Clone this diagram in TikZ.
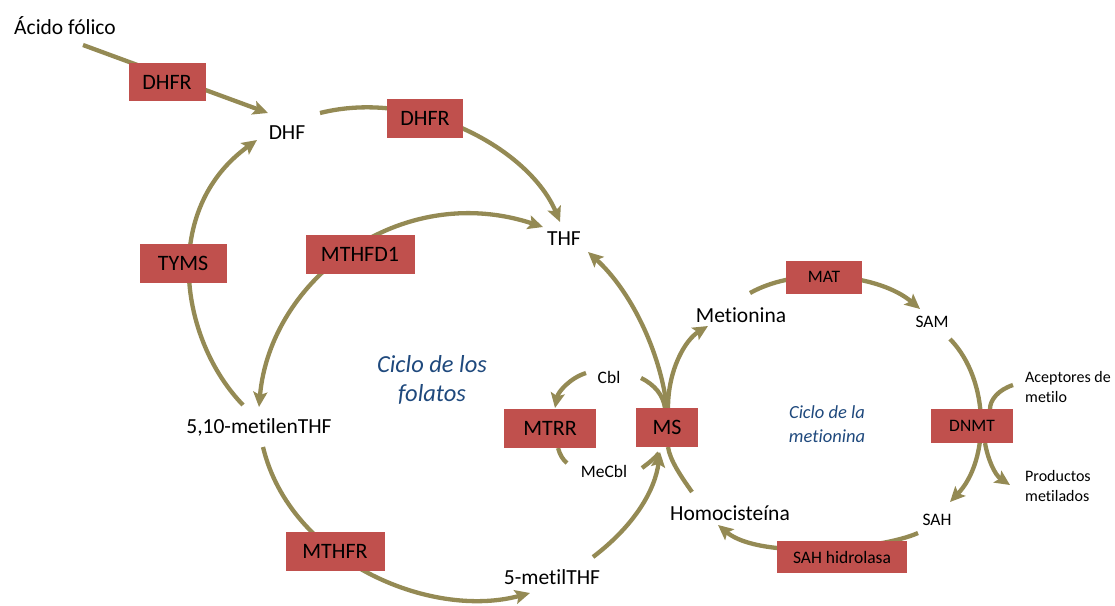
\documentclass[tikz,border=0pt]{standalone}
\usepackage{fontspec}
\setmainfont{Carlito}[Ligatures={NoCommon}]
\usetikzlibrary{arrows.meta}
\definecolor{boxred}{HTML}{C0504D}
\definecolor{arrowolive}{HTML}{948A54}
\definecolor{cycblue}{HTML}{1F497D}
\pgfdeclarelayer{background}
\pgfsetlayers{background,main}
\begin{document}
\begin{tikzpicture}[x=1pt,y=-1pt,
  flow/.style={draw=arrowolive,line width=4.3pt},
  arr/.style={flow,-{Stealth[length=15pt,width=14pt,inset=3pt]}},
  biarr/.style={flow,{Stealth[length=15pt,width=14pt,inset=3pt]}-{Stealth[length=15pt,width=14pt,inset=3pt]}},
  enz/.style={fill=boxred,inner sep=0pt,text=black,font=\fontsize{22}{26}\selectfont},
  senz/.style={fill=boxred,inner sep=0pt,text=black,font=\fontsize{17.5}{21}\selectfont},
  lbl/.style={inner sep=0pt,anchor=base,font=\fontsize{21.5}{25}\selectfont},
  slbl/.style={inner sep=0pt,anchor=base,font=\fontsize{17.5}{21}\selectfont},
  sidelbl/.style={inner sep=0pt,anchor=west,align=left,font=\fontsize{16}{19.5}\selectfont},
  bigcyc/.style={inner sep=0pt,align=center,text=cycblue,font=\fontsize{24.5}{29}\selectfont\itshape},
  smallcyc/.style={inner sep=0pt,align=center,text=cycblue,font=\fontsize{18.5}{24}\selectfont\itshape},
]
\useasboundingbox (0,0) rectangle (1115,605);

% text labels
\node[lbl] (acido) at (65,34) {Ácido fólico};
\node[lbl] (dhf) at (287,139) {DHF};
\node[lbl] (thf) at (564,245) {THF};
\node[lbl] (metilen) at (259,433) {5,10-metilenTHF};
\node[lbl] (metil) at (552,584) {5-metilTHF};
\node[lbl] (metionina) at (741,322) {Metionina};
\node[lbl] (homo) at (730,520) {Homocisteína};
\node[slbl] (sam) at (932,327) {SAM};
\node[slbl] (sah) at (937,525) {SAH};
\node[slbl] (cbl) at (609,383) {Cbl};
\node[slbl] (mecbl) at (604,477) {MeCbl};
\node[sidelbl] (acept) at (1025,387) {Aceptores de\\metilo};
\node[sidelbl] (prod) at (1025,486) {Productos\\metilados};
\node[bigcyc] (folc) at (432,380) {Ciclo de los\\folatos};
\node[smallcyc] (metc) at (827,424) {Ciclo de la\\metionina};

% enzyme boxes
\node[enz,minimum width=77pt,minimum height=38pt] (dhfrA) at (167,82) {DHFR};
\node[enz,minimum width=76pt,minimum height=39pt] (dhfrB) at (425,118) {DHFR};
\node[enz,minimum width=87pt,minimum height=39pt] (tyms) at (183,263) {TYMS};
\node[enz,minimum width=109pt,minimum height=39pt] (mthfd) at (360,254) {MTHFD1};
\node[enz,minimum width=99pt,minimum height=39pt] (mthfr) at (335,551) {MTHFR};
\node[enz,minimum width=92pt,minimum height=39pt] (mtrr) at (550,428) {MTRR};
\node[enz,minimum width=62pt,minimum height=39pt] (ms) at (667,427) {MS};
\node[senz,minimum width=76pt,minimum height=33pt] (mat) at (824,277) {MAT};
\node[senz,minimum width=82pt,minimum height=34pt] (dnmt) at (972,426) {DNMT};
\node[senz,minimum width=130pt,minimum height=32pt] (sahh) at (842,557) {SAH hidrolasa};

% connector end points
\coordinate (acido-o) at (83,45);
\coordinate (dhf-i) at (268,113);
\coordinate (dhf-o) at (320,113);
\coordinate (thf-i1) at (560,222);
\coordinate (metilen-o1) at (243,405);
\coordinate (dhf-i2) at (257,140);
\coordinate (metilen-i) at (259,407);
\coordinate (thf-i2) at (543,227);
\coordinate (metilen-o2) at (263,447);
\coordinate (metil-i) at (530,593);
\coordinate (metil-o) at (593,557);
\coordinate (ms-b1) at (660,452);
\coordinate (ms-t) at (667,408);
\coordinate (ms-t2) at (668,408);
\coordinate (thf-i3) at (588,252);
\coordinate (metionina-i) at (708,326);
\coordinate (homo-o) at (692,492);
\coordinate (ms-b2) at (668,447);
\coordinate (cbl-r) at (641,378);
\coordinate (ms-t3) at (665,408);
\coordinate (mecbl-r) at (642,468);
\coordinate (ms-b3) at (659,453);
\coordinate (cbl-l) at (586,373);
\coordinate (mtrr-t) at (555,408);
\coordinate (mtrr-b) at (558,448);
\coordinate (mecbl-l) at (567,463);
\coordinate (metionina-o) at (750,293);
\coordinate (sam-i) at (920,309);
\coordinate (sam-o) at (950,339);
\coordinate (sah-i) at (950,502);
\coordinate (acept-o) at (1013,385);
\coordinate (dnmt-t) at (990,409);
\coordinate (dnmt-b) at (985,443);
\coordinate (prod-i) at (1010,485);
\coordinate (sah-o) at (918,533);
\coordinate (homo-i) at (718,525);

\begin{pgfonlayer}{background}
\draw[arr] (acido-o) -- (dhf-i);
\draw[arr] (dhf-o) .. controls (420,88) and (530,150) .. (thf-i1);
\draw[arr] (metilen-o1) .. controls (180,340) and (160,210) .. (dhf-i2);
\draw[biarr] (metilen-i) .. controls (270,280) and (400,180) .. (thf-i2);
\draw[arr] (metilen-o2) .. controls (290,560) and (430,620) .. (metil-i);
\draw[arr] (metil-o) .. controls (635,525) and (655,490) .. (ms-b1);
\draw[arr] (ms-t) .. controls (660,350) and (630,290) .. (thf-i3);
\draw[arr] (ms-t2) .. controls (668,370) and (685,340) .. (metionina-i);
\draw[flow] (homo-o) .. controls (680,475) and (670,460) .. (ms-b2);
\draw[flow] (cbl-r) .. controls (655,385) and (663,395) .. (ms-t3);
\draw[flow] (mecbl-r) .. controls (650,462) and (655,458) .. (ms-b3);
\draw[arr] (cbl-l) .. controls (570,378) and (558,392) .. (mtrr-t);
\draw[flow] (mtrr-b) .. controls (560,455) and (563,460) .. (mecbl-l);
\draw[arr] (metionina-o) .. controls (800,265) and (880,275) .. (sam-i);
\draw[arr] (sam-o) .. controls (990,380) and (990,460) .. (sah-i);
\draw[flow] (acept-o) .. controls (998,390) and (990,400) .. (dnmt-t);
\draw[arr] (dnmt-b) .. controls (988,460) and (995,475) .. (prod-i);
\draw[arr] (sah-o) .. controls (880,550) and (760,560) .. (homo-i);
\end{pgfonlayer}
\end{tikzpicture}
\end{document}
